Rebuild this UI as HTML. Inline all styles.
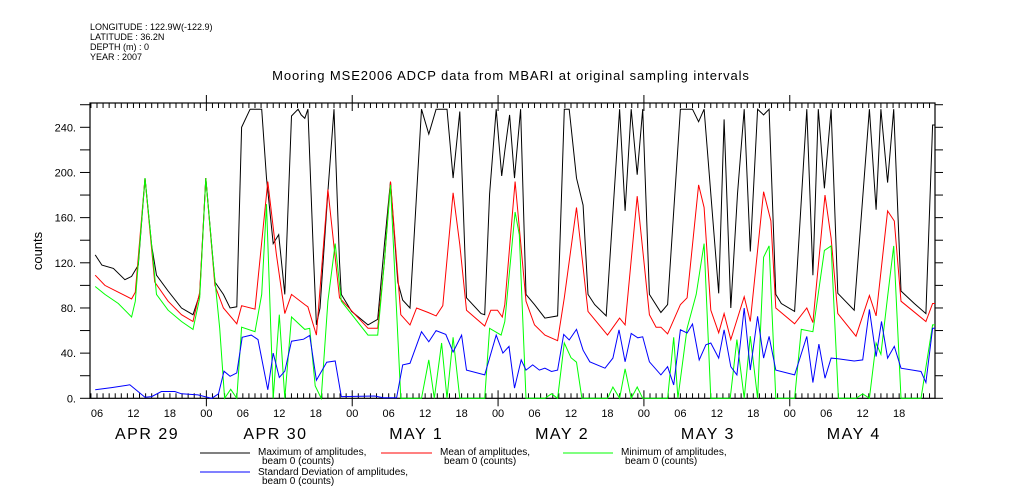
<!DOCTYPE html>
<html><head><meta charset="utf-8"><style>
body{margin:0;background:#fff;width:1009px;height:504px;overflow:hidden}
svg{display:block;font-family:"Liberation Sans",sans-serif}
</style></head><body>
<svg id="chart" width="1009" height="504">
<g font-size="9" fill="#000">
<text x="90" y="30">LONGITUDE : 122.9W(-122.9)</text>
<text x="90" y="40">LATITUDE : 36.2N</text>
<text x="90" y="50">DEPTH (m) : 0</text>
<text x="90" y="60">YEAR : 2007</text>
</g>
<text x="511" y="80" font-size="13" letter-spacing="0.9" text-anchor="middle">Mooring MSE2006 ADCP data from MBARI at original sampling intervals</text>
<text x="0" y="0" font-size="13" text-anchor="middle" transform="translate(42,251) rotate(-90)">counts</text>
<g id="axes"></g><g id="series"></g>
<g font-size="10">
<line x1="200" y1="453" x2="250" y2="453" stroke="#000"/>
<text x="258" y="455">Maximum of amplitudes,</text><text x="262" y="464">beam 0 (counts)</text>
<line x1="381" y1="453" x2="432" y2="453" stroke="#f00"/>
<text x="440" y="455">Mean of amplitudes,</text><text x="444" y="464">beam 0 (counts)</text>
<line x1="563" y1="453" x2="613" y2="453" stroke="#0f0"/>
<text x="621" y="455">Minimum of amplitudes,</text><text x="625" y="464">beam 0 (counts)</text>
<line x1="200" y1="472" x2="250" y2="472" stroke="#00f"/>
<text x="258" y="475">Standard Deviation of amplitudes,</text><text x="262" y="484">beam 0 (counts)</text>
</g>
</svg>
<script>
// hours since Apr 29 00:00, values in counts
const maxHours=[5.7,6.8,8.7,10.6,11.7,12.8,13.9,15,15.8,17.7,19.9,21.8,22.9,23.9,25.4,26.8,27.9,29,29.8,31.2,33.1,33.9,35,35.9,36.9,38,39.1,39.6,40.2,40.7,41.6,42.1,42.7,44,45,45.9,46.2,47.9,50.6,52.2,53.3,54.3,55.5,56.3,57.5,59.4,60.6,61.8,63.6,64.6,65.7,66.8,69.2,69.8,70.6,71.7,72.6,73.1,73.9,74.7,75.7,76.6,78,79.7,81.8,82.9,83.7,84.9,86,86.8,87.9,89.8,92,92.9,93.9,94.9,95.8,96.9,98.8,99.9,102,104,105,105.9,108.3,109.2,110.3,111.4,112.5,113.5,114.7,115.7,116.6,117.7,118.6,120.8,122.8,123.8,124.7,125.7,126.8,127.9,130.6,133.1,134.2,135,136.1,137.1,138.3,140.5,142.4,143.5,143.9];
const maxVals=[127,118,115,105,108,118,195,135,109,95,80,74,92,195,103,92,80,81,240,256,256,195,137,145,92,250,256,251,248,256,130,65,80,183,256,121,92,77,65,70,136,192,103,87,80,256,234,256,256,195,254,89,75,74,181,256,197,219,251,195,256,92,83,71,73,256,256,195,171,92,83,73,256,166,256,198,256,92,76,83,256,256,245,256,93,247,80,181,256,130,256,251,256,92,84,77,256,109,256,186,256,93,78,256,167,256,191,256,95,84,75,242,242];
const meanHours=[5.7,7.3,9.5,11.7,12.3,13.9,15.5,17.7,19.9,21.8,22.9,23.9,25.4,26.8,29,29.8,32,34.1,35.5,36.9,38,40.2,40.7,42.1,44,45.9,50.6,52.2,53.3,54.3,56,57.5,58.6,60.5,61.8,62.9,64.6,65.7,66.8,69.8,70.8,71.9,72.7,73.1,74.8,76.6,78,79.7,81.8,82.9,84.9,86.8,90,92,92.9,94.9,96.9,98,98.8,99.9,102,103.1,105,105.9,107,108.3,109.2,110.3,112.5,113.5,115.7,116.9,117.7,120.8,122.8,123.8,125.8,126.8,127.9,130.9,133.1,134.2,136.1,137.2,138.3,142.4,143.5,143.9];
const meanVals=[109,100,94,88,94,195,103,86,74,68,94,195,100,80,66,82,79,192,128,75,92,83,81,56,185,89,62,62,121,192,74,65,80,76,73,82,182,136,78,64,78,78,72,83,192,86,65,56,51,89,169,77,56,71,65,179,74,63,63,57,83,89,189,169,78,58,75,52,90,68,183,157,80,66,80,67,180,142,75,55,91,73,166,157,86,68,84,84];
const minHours=[5.7,7.3,9.5,11.7,12.3,13.9,15.8,17.7,19.9,21.8,22.9,23.9,25.1,26.2,27,28,29,29.8,32,33.1,33.9,35,36,36.9,38,40.2,41,41.9,42.9,44,45.2,46.2,50.6,52.2,53.3,54.3,56,59.4,60.6,61.5,62.7,63.6,64.6,65.7,69.8,70.6,72.5,73.1,74.8,75.5,76.6,79.7,80.8,81.8,82.9,84,84.9,85.8,90,90.9,92,92.9,93.9,94.9,95.8,99.9,100.9,101.6,103.1,104.6,105.9,107,110.2,111.3,112.5,113.5,114.7,115.7,116.6,117.7,120.8,121.9,123.8,125.7,126.8,128,130.9,132,133.1,134.2,135,136.1,137.1,138.3,141.6,143.5,143.9];
const minVals=[99,92,84,72,86,195,92,78,68,61,89,195,121,62,0,8,0,63,59,92,172,0,74,0,72,61,62,11,0,86,137,86,56,56,121,189,0,0,34,0,49,0,54,0,0,62,56,68,165,145,0,0,4,0,49,36,32,0,0,10,0,26,0,10,0,0,54,0,62,92,137,0,0,52,0,55,0,125,135,0,0,61,59,131,135,0,0,4,0,49,39,90,135,0,0,65,65];
const sdHours=[5.7,8.4,11.4,13.9,15,16.6,18.8,19.9,22.6,24.9,26,26.9,27.9,29,29.9,31.4,32.5,34.1,35,36,36.9,38,40,41,42.1,43.8,45.2,46.2,51.7,53.1,55.3,56.3,57.5,59.4,60.6,61.8,63.4,64.6,66,66.8,69.8,71.7,72.8,73.8,74.7,75.8,76.6,77.7,78.8,79.7,80.8,81.8,82.8,83.7,84.9,86,87.1,89.6,90.9,91.9,92.9,93.9,95,95.8,96.9,98.8,99.9,100.9,102,103.1,104,105.1,106.2,107,108.3,109.2,110.3,111.3,112.5,113.5,114.7,115.7,116.6,117.7,120.8,122.8,123.8,124.8,125.8,126.8,127.9,130.6,132,133.1,134.2,135.1,136.1,137.2,138.3,141.6,142.4,143.5,143.9];
const sdVals=[7.5,9.5,12,1,1.5,6,6,4,3,0,4,24,19.5,22.5,54,56,52,7.5,40,18.5,24,50.6,52.3,55.7,16,32,33,1.5,2,0.5,0.5,29.6,31,59,50,60,56.6,41,56,25,20.7,56,40,46,9,34,25,29.6,25,26.7,23.7,25,56.6,51.6,61,42.6,32.3,26.7,35.6,60.7,32.3,57.5,53.6,54.5,32.3,20.7,28,11.8,60.7,57.8,65.8,34,47.4,49,35.6,60.7,28,20.7,80,25,72.6,35.6,54.8,25,20.7,54.8,14,48,17.8,35.6,35,33,34,78.6,37,68,35.6,46,26.7,23.7,14,62,62];
const yTicks=[0,40,80,120,160,200,240];
const hourLabels=["06","12","18","00"];
const dayLabels=["APR 29","APR 30","MAY  1","MAY  2","MAY  3","MAY  4"];

const X0=90,X1=935,Y0=398.3,Ytop=103;
const H0=4.85,H1=143.9;
function xs(h){return X0+(h-H0)*(X1-X0)/(H1-H0);}
function ys(v){return Y0-v*(Y0-127.3)/240;}
const NS='http://www.w3.org/2000/svg';
function mk(tag,attrs,parent){const e=document.createElementNS(NS,tag);for(const k in attrs)e.setAttribute(k,attrs[k]);parent.appendChild(e);return e;}
const ax=document.getElementById('axes'),sg=document.getElementById('series');
const frame=mk('rect',{x:X0,y:Ytop,width:X1-X0,height:Y0-Ytop,fill:'none',stroke:'#000','stroke-width':1.2},ax);


for(let v=0;v<=260;v+=20){const y=ys(v);if(y<Ytop)break;
 const t=mk('line',{x1:X0-10,y1:y,x2:X0,y2:y,stroke:'#000'},ax);
 
 
 mk('line',{x1:X1,y1:y,x2:X1+8,y2:y,stroke:'#000'},ax);}
yTicks.forEach(v=>{const t=mk('text',{x:X0-14,y:ys(v)+4,'font-size':11,'text-anchor':'end'},ax);t.textContent=v+'.';
 
 });
for(let h=5;h<=143;h++){const x=xs(h);const major=h%24===0;
 mk('line',{x1:x,y1:Y0,x2:x,y2:Y0-(major?8:5),stroke:'#000'},ax);
 mk('line',{x1:x,y1:Ytop,x2:x,y2:Ytop+(major?8:5),stroke:'#000'},ax);
 if(major){mk('line',{x1:x,y1:Y0,x2:x,y2:Y0+8,stroke:'#000'},ax);mk('line',{x1:x,y1:Ytop,x2:x,y2:Ytop-8,stroke:'#000'},ax);}
 if(h%6===0){const t=mk('text',{x:x,y:417,'font-size':11,'text-anchor':'middle'},ax);t.textContent=hourLabels[(h/6-1+4)%4];
  
  }}
dayLabels.forEach((d,i)=>{const t=mk('text',{x:Math.max(xs(24*i)+37,X0+25),y:439,'font-size':16,'letter-spacing':1.5,'text-anchor':'start','xml:space':'preserve'},ax);t.textContent=d;
 
 });
function line(hs,vs,color,name){const pts=hs.map((h,i)=>xs(h).toFixed(1)+','+ys(vs[i]).toFixed(1)).join(' ');
 const p=mk('polyline',{points:pts,fill:'none',stroke:color,'stroke-width':1},sg);
 
 }
line(maxHours,maxVals,'#000','max-series');
line(meanHours,meanVals,'#f00','mean-series');
line(minHours,minVals,'#0f0','min-series');
line(sdHours,sdVals,'#00f','sd-series');
</script>
</body></html>
